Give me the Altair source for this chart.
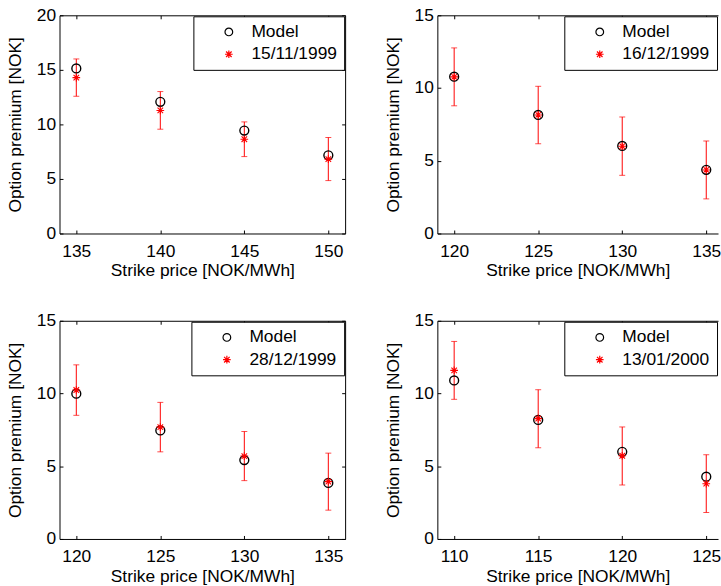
import altair as alt
import pandas as pd

# ---- data ----
dates = ["15/11/1999", "16/12/1999", "28/12/1999", "13/01/2000"]
strikes = [[135, 140, 145, 150], [120, 125, 130, 135], [120, 125, 130, 135], [110, 115, 120, 125]]
model = [[15.13, 12.07, 9.44, 7.17], [10.78, 8.15, 6.02, 4.38], [9.99, 7.46, 5.42, 3.85], [10.90, 8.18, 5.99, 4.28]]
market = [[14.29, 11.28, 8.64, 6.82], [10.77, 8.15, 6.00, 4.37], [10.24, 7.69, 5.70, 3.94], [11.59, 8.27, 5.72, 3.80]]
err_low = [[12.58, 9.56, 7.05, 4.85], [8.78, 6.17, 4.00, 2.38], [8.50, 5.99, 4.01, 1.98], [9.60, 6.27, 3.71, 1.82]]
err_high = [[16.00, 13.01, 10.23, 8.80], [12.76, 10.12, 8.01, 6.36], [11.97, 9.39, 7.39, 5.90], [13.58, 10.26, 7.70, 5.79]]
# right-hand panels are cut off by the figure edge in the reference
x_domains = [[134, 151], [119, 135.7], [119, 136], [109, 125.7]]
widths = [288, 283, 288, 283]
full_box = [True, False, True, False]
y_max = [20, 15, 15, 15]
y_ticks = [[0, 5, 10, 15, 20], [0, 5, 10, 15], [0, 5, 10, 15], [0, 5, 10, 15]]

FONT = "Liberation Sans"
FS = 17.5
H = 220
TK = 3.5
ASTERISK = "M0,-1L0,1M-1,0L1,0M-0.72,-0.72L0.72,0.72M-0.72,0.72L0.72,-0.72"
LEGEND_SPACER = "nn"  # invisible legend title: leaves room left of the symbols (MATLAB style)


def tick_axis(orient, offset, values, domain):
    return alt.Axis(orient=orient, offset=offset, values=values, labels=False,
                    domain=domain, domainColor="black", domainWidth=1,
                    ticks=True, tickSize=TK, tickColor="black",
                    tickWidth=1, grid=False, title=None)


def panel(i):
    W = widths[i]
    df_m = pd.DataFrame({"strike": strikes[i], "value": model[i], "series": "Model"})
    df_d = pd.DataFrame({"strike": strikes[i], "value": market[i], "low": err_low[i],
                         "high": err_high[i], "series": dates[i]})
    xs = alt.Scale(domain=x_domains[i], nice=False, zero=False)
    ys = alt.Scale(domain=[0, y_max[i]], nice=False, zero=False)
    dom = ["Model", dates[i]]
    leg = alt.Legend(title=LEGEND_SPACER)
    color = alt.Color("series:N", scale=alt.Scale(domain=dom, range=["black", "red"]), legend=leg)
    shape = alt.Shape("series:N", scale=alt.Scale(domain=dom, range=["circle", ASTERISK]), legend=leg)

    main_x = alt.Axis(orient="bottom", values=strikes[i], title="Strike price [NOK/MWh]",
                      ticks=False, tickSize=0, domain=True, domainColor="black", domainWidth=1,
                      grid=False, labelPadding=9, titlePadding=2)
    main_y = alt.Axis(orient="left", values=y_ticks[i], title="Option premium [NOK]",
                      ticks=False, tickSize=0, domain=True, domainColor="black", domainWidth=1,
                      grid=False, labelPadding=4, titlePadding=12)

    rule = alt.Chart(df_d).mark_rule(color="red", strokeWidth=1).encode(
        x=alt.X("strike:Q", scale=xs, axis=main_x),
        y=alt.Y("low:Q", scale=ys, axis=main_y),
        y2="high:Q",
    )
    cap_lo = alt.Chart(df_d).mark_tick(color="red", orient="horizontal", size=6, thickness=1).encode(
        x=alt.X("strike:Q", scale=xs, axis=None),
        y=alt.Y("low:Q", scale=ys, axis=None),
    )
    cap_hi = alt.Chart(df_d).mark_tick(color="red", orient="horizontal", size=6, thickness=1).encode(
        x=alt.X("strike:Q", scale=xs, axis=None),
        y=alt.Y("high:Q", scale=ys, axis=None),
    )
    circles = alt.Chart(df_m).mark_point(filled=False, size=80, strokeWidth=1.4, opacity=1).encode(
        x=alt.X("strike:Q", scale=xs, axis=tick_axis("bottom", -H, strikes[i], True)),
        y=alt.Y("value:Q", scale=ys, axis=tick_axis("right", -W, y_ticks[i], False)),
        color=color, shape=shape,
    )
    if full_box[i]:
        star_y_axis = tick_axis("left", -W, y_ticks[i], True)
    else:
        star_y_axis = None
    stars = alt.Chart(df_d).mark_point(filled=False, size=60, strokeWidth=1.1, opacity=1).encode(
        x=alt.X("strike:Q", scale=xs, axis=tick_axis("top", -H, strikes[i], False)),
        y=alt.Y("value:Q", scale=ys, axis=star_y_axis),
        color=color, shape=shape,
    )
    return (alt.layer(rule, cap_lo, cap_hi, circles, stars)
            .resolve_axis(x="independent", y="independent")
            .properties(width=W, height=H))


RES = dict(x="independent", y="independent", color="independent", shape="independent")
row1 = alt.hconcat(panel(0), panel(1), spacing=38).resolve_scale(**RES)
row2 = alt.hconcat(panel(2), panel(3), spacing=38).resolve_scale(**RES)

chart = (
    alt.vconcat(row1, row2, spacing=33)
    .resolve_scale(**RES)
    .properties(padding={"left": 6, "top": 4, "right": 0, "bottom": 0}, background="white")
    .configure_view(stroke="transparent", strokeWidth=0)
    .configure_axis(labelFont=FONT, labelFontSize=FS, labelColor="black",
                    titleFont=FONT, titleFontSize=FS, titleFontWeight="normal", titleColor="black")
    .configure_legend(orient="top-right", offset=1, strokeColor="black", fillColor="white",
                      padding=7, labelFont=FONT, labelFontSize=FS, labelColor="black",
                      titleFont=FONT, titleFontSize=FS, titleFontWeight="normal",
                      titleOrient="left", titlePadding=0, titleOpacity=0,
                      symbolSize=60, symbolStrokeWidth=1.2, rowPadding=3.5,
                      symbolOffset=0, labelOffset=14)
)

chart.save("out.html", embed_options={"renderer": "svg", "actions": False})
